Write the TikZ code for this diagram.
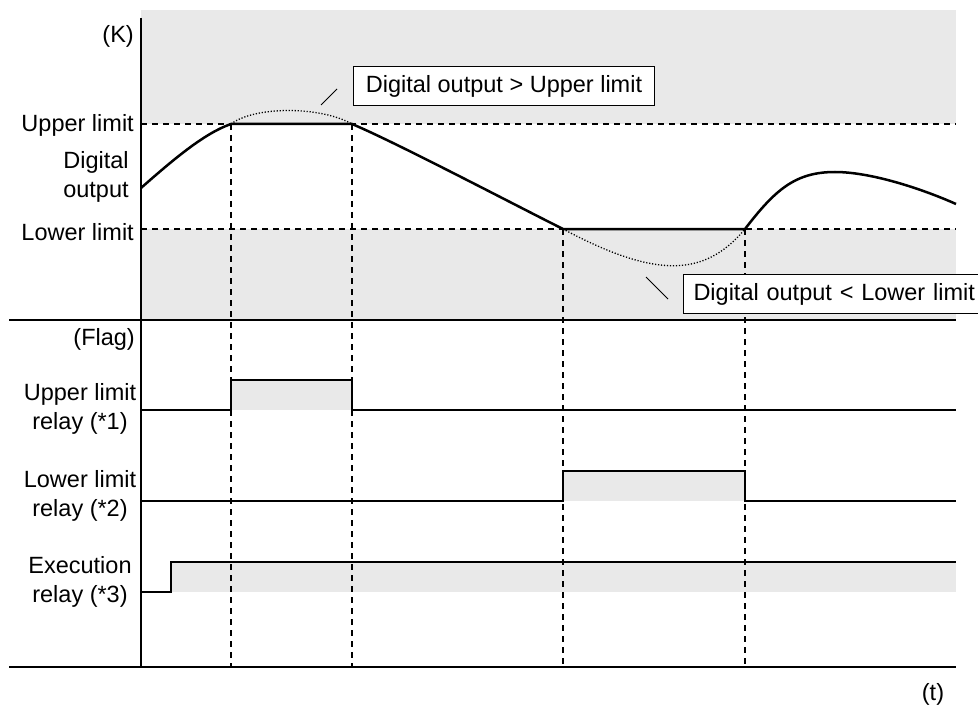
\documentclass[tikz,border=0pt]{standalone}
\usepackage{fontspec}
\setmainfont{Liberation Sans}
\definecolor{bandgray}{RGB}{233,233,233}
\begin{document}
\begin{tikzpicture}[x=1pt,y=-1pt,
  lbl/.style={font=\fontsize{23.5}{28}\selectfont, inner sep=0pt},
  callout/.style={draw, fill=white, line width=1pt, font=\fontsize{23.5}{28}\selectfont, inner ysep=0pt},
  band/.style={fill=bandgray, draw=none},
  guide/.style={line width=1.5pt, dash pattern=on 6pt off 5pt},
  signal/.style={line width=1.7pt},
  curveline/.style={line width=2.5pt, line join=round},
  ghost/.style={line width=1.3pt, dash pattern=on 1.2pt off 1.8pt},
  axisline/.style={line width=2.2pt},
  leader/.style={line width=1pt}]
\useasboundingbox (0,0) rectangle (978,706);

% grey bands
\fill[band] (141,10) rectangle (956,124);
\fill[band] (141,229) rectangle (956,320);
\fill[band] (231,380) rectangle (352,410);
\fill[band] (563,471) rectangle (745,501);
\fill[band] (171,562) rectangle (956,592);

% key coordinates
\coordinate (ul0) at (141,124);  \coordinate (ul1) at (956,124);
\coordinate (ll0) at (141,229);  \coordinate (ll1) at (956,229);
\coordinate (t1) at (231,124);   \coordinate (t2) at (352,124);
\coordinate (t3) at (563,229);   \coordinate (t4) at (745,229);
\coordinate (b1) at (231,667);   \coordinate (b2) at (352,667);
\coordinate (b3) at (563,667);   \coordinate (b4) at (745,667);

% dashed guides
\draw[guide] (ul0) -- (ul1);
\draw[guide] (ll0) -- (ll1);
\draw[guide] (t1) -- (b1);
\draw[guide] (t2) -- (b2);
\draw[guide] (t3) -- (b3);
\draw[guide] (t4) -- (b4);

% hidden (dotted) parts of the raw curve
\draw[ghost] (t1) .. controls (255,106) and (320,106) .. (t2);
\draw[ghost] (t3) .. controls (655,278) and (704,278) .. (t4);

% digital output curve
\draw[curveline] (141,188) .. controls (175,158) and (205,133) .. (t1) -- (t2)
  .. controls (395,142) and (515,205) .. (t3) -- (t4)
  .. controls (775,190) and (795,172) .. (835,172)
  .. controls (870,172) and (920,188) .. (956,204);

% relay signals
\draw[signal] (141,410) -- (231,410) -- (231,380) -- (352,380) -- (352,410) -- (956,410);
\draw[signal] (141,501) -- (563,501) -- (563,471) -- (745,471) -- (745,501) -- (956,501);
\draw[signal] (141,592) -- (171,592) -- (171,562) -- (956,562);

% axes and separators
\draw[axisline] (141,18) -- (141,667);
\draw[axisline] (9,320) -- (956,320);
\draw[axisline] (9,667) -- (956,667);

% callouts
\node (cu) [callout, minimum width=301pt, minimum height=39pt, anchor=north west] at (353,66) {Digital output > Upper limit};
\draw[leader] (321,105) -- (337,89);
\node (cl) [callout, text width=285pt, align=left, inner xsep=10pt, minimum height=39pt, anchor=north west] at (683,274) {Digital output < Lower limit};
\draw[leader] (646,277) -- (668,299);

% axis labels
\node (k) [lbl, anchor=base east] at (134,42.5) {(K)};
\node (ulim) [lbl, anchor=base east] at (134,131.5) {Upper limit};
\node (dig1) [lbl, anchor=base] at (96,169) {Digital};
\node (dig2) [lbl, anchor=base] at (96,198) {output};
\node (llim) [lbl, anchor=base east] at (134,240.5) {Lower limit};
\node (flag) [lbl, anchor=base east] at (135,345) {(Flag)};
\node (r1a) [lbl, anchor=base] at (80,400) {Upper limit};
\node (r1b) [lbl, anchor=base] at (80,429) {relay (*1)};
\node (r2a) [lbl, anchor=base] at (80,487.5) {Lower limit};
\node (r2b) [lbl, anchor=base] at (80,516.5) {relay (*2)};
\node (r3a) [lbl, anchor=base] at (80,573) {Execution};
\node (r3b) [lbl, anchor=base] at (80,602) {relay (*3)};
\node (t) [lbl, anchor=base] at (933,700) {(t)};
\end{tikzpicture}
\end{document}
